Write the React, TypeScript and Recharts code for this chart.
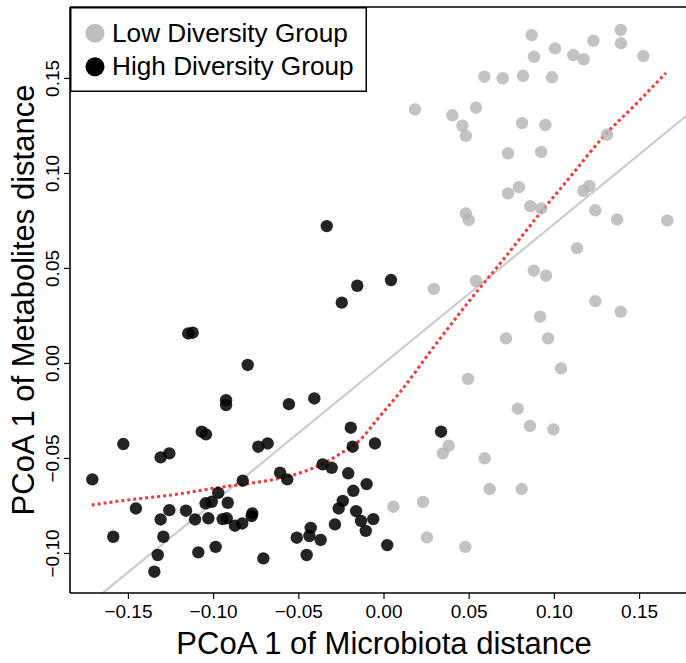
import React from "react";
import {
  ComposedChart,
  Scatter,
  Line,
  XAxis,
  YAxis,
  Legend,
  Label,
  ReferenceLine,
} from "recharts";

// axis settings
const X_MIN = -0.1843;
const X_MAX = 0.1843;
const Y_MIN = -0.1208;
const Y_MAX = 0.1876;
const X_TICKS = [-0.15, -0.1, -0.05, 0, 0.05, 0.1, 0.15];
const Y_TICKS = [-0.1, -0.05, 0, 0.05, 0.1, 0.15];

const GROUPS = ["Low Diversity Group", "High Diversity Group"];

// low diversity group
const LOW_X = [
  0.0867, 0.1389, 0.1391, 0.1229, 0.1004, 0.088, 0.1111, 0.1172, 0.1522, 0.0589,
  0.0697, 0.0816, 0.0986, 0.0182, 0.0401, 0.054, 0.046, 0.0481, 0.081, 0.0947,
  0.1309, 0.0728, 0.0922, 0.0728, 0.0792, 0.117, 0.1205, 0.048, 0.0497, 0.0859,
  0.0923, 0.124, 0.1368, 0.1663, 0.1133, 0.0879, 0.0951, 0.054, 0.0293, 0.124,
  0.1389, 0.0916, 0.0716, 0.0963, 0.1039, 0.0493, 0.0785, 0.0857, 0.0994, 0.038,
  0.0345, 0.0591, 0.062, 0.0808, 0.0055, 0.0229, 0.0252, 0.0477,
];
const LOW_Y = [
  0.1728, 0.1755, 0.1685, 0.1698, 0.1658, 0.1614, 0.1623, 0.1601, 0.1618, 0.1509,
  0.1501, 0.1514, 0.1506, 0.1337, 0.1306, 0.1346, 0.1251, 0.1198, 0.1265, 0.1255,
  0.1204, 0.1106, 0.1113, 0.0895, 0.0928, 0.0909, 0.0934, 0.079, 0.0755, 0.0828,
  0.0816, 0.0806, 0.0758, 0.0753, 0.0607, 0.0488, 0.0462, 0.0434, 0.0392, 0.0328,
  0.0272, 0.0246, 0.0132, 0.0132, -0.0026, -0.0081, -0.0238, -0.0329, -0.0347, -0.0433,
  -0.0473, -0.0499, -0.0661, -0.0661, -0.0754, -0.0729, -0.0915, -0.0965,
];

// high diversity group
const HIGH_X = [
  -0.0248, -0.1149, -0.1123, -0.08, -0.0927, -0.0927, -0.0558, -0.0409, -0.107, -0.1045,
  -0.153, -0.0738, -0.0683, -0.1311, -0.126, -0.0195, -0.0184, -0.0053, -0.1712, -0.0829,
  -0.061, -0.0568, -0.036, -0.0307, -0.021, -0.0102, -0.018, -0.0973, -0.1456, -0.1047,
  -0.1011, -0.0917, -0.0242, -0.0266, -0.126, -0.1162, -0.1311, -0.1109, -0.1031, -0.0947,
  -0.0923, -0.0773, -0.0777, -0.0875, -0.0832, -0.0164, -0.0135, -0.0063, -0.0107, -0.0288,
  -0.043, -0.0438, -0.1589, -0.1295, -0.0512, -0.0372, 0.0019, -0.0988, -0.109, -0.1328,
  -0.0454, -0.0708, -0.1348, -0.0336, -0.0157, 0.0041, 0.0335,
];
const HIGH_Y = [
  0.032, 0.0158, 0.0162, -0.0008, -0.0193, -0.0219, -0.0214, -0.0184, -0.0359, -0.0373,
  -0.0424, -0.0438, -0.0421, -0.0494, -0.0473, -0.0338, -0.0438, -0.0421, -0.061, -0.0617,
  -0.0575, -0.061, -0.0531, -0.0549, -0.0578, -0.0635, -0.067, -0.0681, -0.0763, -0.0736,
  -0.0728, -0.0733, -0.0723, -0.0763, -0.0772, -0.0775, -0.0821, -0.0821, -0.0815, -0.0819,
  -0.0815, -0.0789, -0.0803, -0.0854, -0.0842, -0.0777, -0.0829, -0.0819, -0.0881, -0.0847,
  -0.0865, -0.0908, -0.0912, -0.0912, -0.0917, -0.0929, -0.0956, -0.0965, -0.0994, -0.1008,
  -0.1008, -0.1026, -0.1096, 0.0723, 0.0409, 0.0439, -0.0359,
];

// loess fit
const LOESS_X = [
  -0.1716, -0.151, -0.1256, -0.0963, -0.0728, -0.0532, -0.0356, -0.0239, -0.0141, -0.0043,
  0.0094, 0.0309, 0.0505, 0.0698, 0.0898, 0.1092, 0.1286, 0.1485, 0.1655,
];
const LOESS_Y = [
  -0.0745, -0.0719, -0.0693, -0.0652, -0.0623, -0.0587, -0.0526, -0.0465, -0.0403, -0.0298,
  -0.0151, 0.0107, 0.0334, 0.0544, 0.0771, 0.0981, 0.1192, 0.1371, 0.1529,
];

// linear fit
const LM_SLOPE = 0.733;
const LM_INTERCEPT = 0.0002;

const FONT = "'Liberation Sans', Arial, Helvetica, sans-serif";
const LOW_COLOR = "#b4b4b4";
const HIGH_COLOR = "#000000";

const lowData = LOW_X.map((x, i) => ({ x, y: LOW_Y[i] }));
const highData = HIGH_X.map((x, i) => ({ x, y: HIGH_Y[i] }));
const loessData = LOESS_X.map((x, i) => ({ x, y: LOESS_Y[i] }));
const lmData = [X_MIN, X_MAX].map((x) => ({ x, y: LM_INTERCEPT + LM_SLOPE * x }));

const fmt = (v: number) => {
  const s = Math.abs(v).toFixed(2);
  return v < -1e-9 ? "\u2212" + s : s;
};

const XTick = ({ x, y, payload }: any) => (
  <text x={x} y={y} dy={17} textAnchor="middle" fontSize={19} fontFamily={FONT} fill="#000">
    {fmt(payload.value)}
  </text>
);

const YTick = ({ x, y, payload }: any) => (
  <text
    x={0}
    y={0}
    transform={`translate(${x - 3},${y}) rotate(-90)`}
    textAnchor="middle"
    fontSize={19}
    fontFamily={FONT}
    fill="#000"
  >
    {fmt(payload.value)}
  </text>
);

const dot = (color: string, opacity: number) => (props: any) =>
  <circle cx={props.cx} cy={props.cy} r={6.2} fill={color} fillOpacity={opacity} />;

const LegendBox = () => (
  <svg width={297} height={85} style={{ display: "block" }}>
    <rect x={0.75} y={0.75} width={295.5} height={83.5} fill="#fff" stroke="#000" strokeWidth={1.5} />
    {GROUPS.map((g, i) => (
      <g key={g}>
        <circle cx={25} cy={26.3 + i * 33.4} r={9.5} fill={i === 0 ? "#bebebe" : HIGH_COLOR} />
        <text x={42} y={35 + i * 33.4} fontSize={26.2} fontFamily={FONT} fill="#000">
          {g}
        </text>
      </g>
    ))}
  </svg>
);

export default function App() {
  return (
    <div
      style={{
        position: "absolute",
        left: 0,
        top: 0,
        width: 686,
        height: 663,
        overflow: "hidden",
        background: "#fff",
      }}
    >
      <ComposedChart width={700} height={663} margin={{ top: 7, right: 2, bottom: 0, left: 0 }}>
        <XAxis
          type="number"
          dataKey="x"
          domain={[X_MIN, X_MAX]}
          ticks={X_TICKS}
          allowDataOverflow
          height={70}
          tickSize={6}
          tick={<XTick />}
          stroke="#000"
          axisLine={{ stroke: "#000", strokeWidth: 1.6 }}
          tickLine={{ stroke: "#000", strokeWidth: 1.2 }}
        >
          <Label
            content={(p: any) => {
              const vb = p.viewBox || { x: 70, y: 593, width: 628 };
              return (
                <text
                  x={vb.x + vb.width / 2}
                  y={vb.y + 61}
                  textAnchor="middle"
                  fontSize={31}
                  fontFamily={FONT}
                  fill="#000"
                >
                  PCoA 1 of Microbiota distance
                </text>
              );
            }}
          />
        </XAxis>
        <YAxis
          type="number"
          dataKey="y"
          domain={[Y_MIN, Y_MAX]}
          ticks={Y_TICKS}
          allowDataOverflow
          width={70}
          tickSize={6}
          tick={<YTick />}
          stroke="#000"
          axisLine={{ stroke: "#000", strokeWidth: 1.6 }}
          tickLine={{ stroke: "#000", strokeWidth: 1.2 }}
        >
          <Label
            content={(p: any) => {
              const vb = p.viewBox || { x: 0, y: 7, height: 586 };
              const cy = vb.y + vb.height / 2;
              return (
                <text
                  x={0}
                  y={0}
                  transform={`translate(33.5,${cy}) rotate(-90)`}
                  textAnchor="middle"
                  fontSize={31}
                  fontFamily={FONT}
                  fill="#000"
                >
                  PCoA 1 of Metabolites distance
                </text>
              );
            }}
          />
        </YAxis>
        <ReferenceLine y={Y_MAX} stroke="#000" strokeWidth={1.6} />
        <Scatter
          name={GROUPS[0]}
          data={lowData}
          shape={dot(LOW_COLOR, 0.8)}
          isAnimationActive={false}
        />
        <Scatter
          name={GROUPS[1]}
          data={highData}
          shape={dot(HIGH_COLOR, 0.86)}
          isAnimationActive={false}
        />
        <Line
          data={lmData}
          dataKey="y"
          type="linear"
          stroke="#cccccc"
          strokeWidth={2.2}
          dot={false}
          activeDot={false}
          isAnimationActive={false}
          legendType="none"
        />
        <Line
          data={loessData}
          dataKey="y"
          type="monotone"
          stroke="#ff3333"
          strokeWidth={3}
          strokeDasharray="3 3"
          dot={false}
          activeDot={false}
          isAnimationActive={false}
          legendType="none"
        />
        <Legend
          layout="horizontal"
          align="center"
          verticalAlign="middle"
          content={() => <LegendBox />}
          wrapperStyle={{ left: 70, top: 7, width: 297, height: 85, position: "absolute" }}
        />
      </ComposedChart>
    </div>
  );
}
